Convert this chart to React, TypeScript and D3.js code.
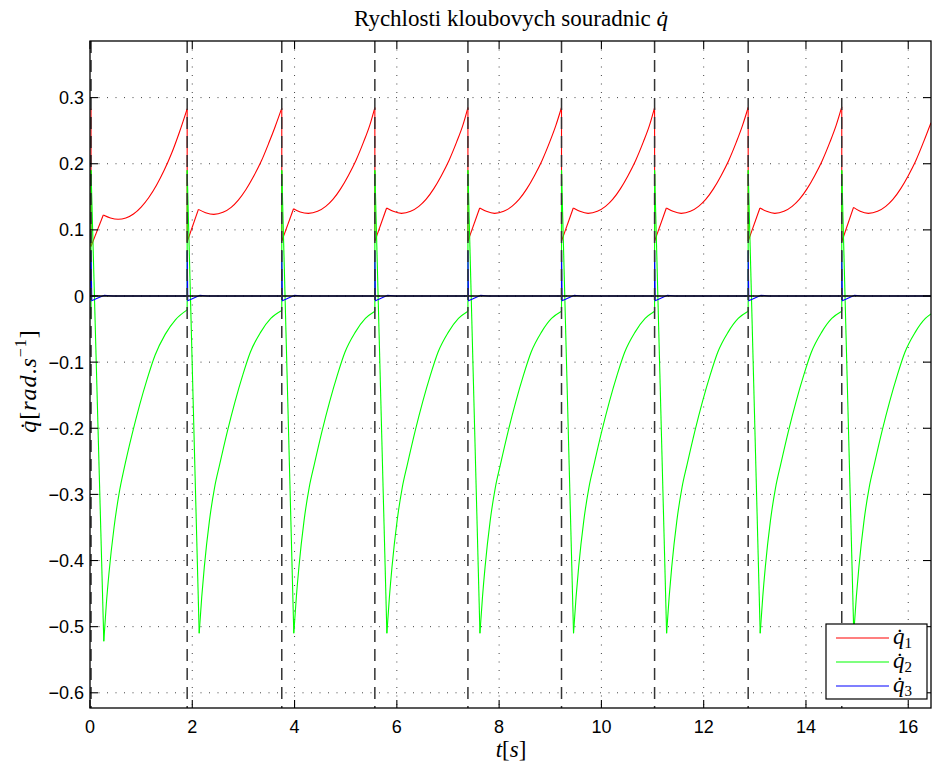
import React from "react";
import * as d3 from "d3";

const W = 932;
const H = 767;
const PLOT = { left: 90, right: 931, top: 41, bottom: 708 };
const X_DOMAIN: [number, number] = [0, 16.445];
const Y_DOMAIN: [number, number] = [-0.623, 0.3856];
const X_TICKS = [0, 2, 4, 6, 8, 10, 12, 14, 16];
const Y_TICKS = [-0.6, -0.5, -0.4, -0.3, -0.2, -0.1, 0, 0.1, 0.2, 0.3];
const SWITCH_TIMES = [0.02, 1.9, 3.75, 5.57, 7.39, 9.22, 11.04, 12.87, 14.7];

type P = [number, number];

// q1 (red) – one array per period: start after jump, local peak, then smooth rise
const Q1_START: P = [0.02, 0.283];
const Q1_PERIODS: P[][] = [
  [[0.02, 0.075], [0.26, 0.1225], [0.4, 0.118], [0.55, 0.116], [0.7, 0.118], [0.85, 0.124], [1.0, 0.1345], [1.15, 0.149], [1.3, 0.1675], [1.45, 0.19], [1.6, 0.2165], [1.75, 0.248], [1.9, 0.283]],
  [[1.9, 0.082], [2.12, 0.131], [2.26, 0.126], [2.42, 0.1235], [2.6, 0.1265], [2.76, 0.134], [2.9, 0.145], [3.05, 0.161], [3.2, 0.181], [3.35, 0.204], [3.5, 0.232], [3.62, 0.256], [3.75, 0.284]],
  [[3.75, 0.083], [3.98, 0.132], [4.11, 0.127], [4.27, 0.125], [4.45, 0.128], [4.61, 0.1355], [4.75, 0.146], [4.9, 0.162], [5.05, 0.182], [5.2, 0.205], [5.35, 0.233], [5.47, 0.258], [5.57, 0.285]],
  [[5.57, 0.083], [5.8, 0.133], [5.93, 0.128], [6.09, 0.125], [6.27, 0.128], [6.43, 0.1355], [6.57, 0.146], [6.72, 0.162], [6.87, 0.182], [7.02, 0.205], [7.17, 0.233], [7.29, 0.258], [7.39, 0.285]],
  [[7.39, 0.083], [7.62, 0.133], [7.75, 0.128], [7.91, 0.125], [8.09, 0.128], [8.25, 0.1355], [8.39, 0.146], [8.54, 0.162], [8.69, 0.182], [8.84, 0.205], [8.99, 0.233], [9.11, 0.258], [9.22, 0.285]],
  [[9.22, 0.083], [9.45, 0.133], [9.58, 0.128], [9.74, 0.125], [9.92, 0.128], [10.08, 0.1355], [10.22, 0.146], [10.37, 0.162], [10.52, 0.182], [10.67, 0.205], [10.82, 0.233], [10.94, 0.258], [11.04, 0.285]],
  [[11.04, 0.083], [11.27, 0.133], [11.4, 0.128], [11.56, 0.125], [11.74, 0.128], [11.9, 0.1355], [12.04, 0.146], [12.19, 0.162], [12.34, 0.182], [12.49, 0.205], [12.64, 0.233], [12.76, 0.258], [12.87, 0.285]],
  [[12.87, 0.083], [13.1, 0.133], [13.23, 0.128], [13.39, 0.125], [13.57, 0.128], [13.73, 0.1355], [13.87, 0.146], [14.02, 0.162], [14.17, 0.182], [14.32, 0.205], [14.47, 0.233], [14.59, 0.258], [14.7, 0.286]],
  [[14.7, 0.082], [14.93, 0.134], [15.06, 0.128], [15.22, 0.125], [15.4, 0.128], [15.56, 0.1355], [15.7, 0.146], [15.85, 0.162], [16.0, 0.182], [16.15, 0.205], [16.3, 0.233], [16.445, 0.262]],
];

// q2 (green) – spike top, minimum, then recovery
const Q2_START: P = [0.02, -0.035];
const Q2_PERIODS: P[][] = [
  [[0.02, 0.19], [0.27, -0.522], [0.32, -0.465], [0.37, -0.42], [0.47, -0.35], [0.57, -0.298], [0.67, -0.26], [0.82, -0.21], [0.97, -0.165], [1.12, -0.125], [1.27, -0.09], [1.47, -0.058], [1.67, -0.036], [1.9, -0.021]],
  [[1.9, 0.19], [2.135, -0.51], [2.185, -0.455], [2.235, -0.41], [2.335, -0.34], [2.435, -0.29], [2.535, -0.255], [2.685, -0.205], [2.835, -0.16], [2.985, -0.12], [3.135, -0.085], [3.335, -0.055], [3.535, -0.034], [3.75, -0.022]],
  [[3.75, 0.19], [3.985, -0.51], [4.035, -0.455], [4.085, -0.41], [4.185, -0.34], [4.285, -0.29], [4.385, -0.255], [4.535, -0.205], [4.685, -0.16], [4.835, -0.12], [4.985, -0.085], [5.185, -0.055], [5.385, -0.034], [5.57, -0.023]],
  [[5.57, 0.19], [5.805, -0.51], [5.855, -0.455], [5.905, -0.41], [6.005, -0.34], [6.105, -0.29], [6.205, -0.255], [6.355, -0.205], [6.505, -0.16], [6.655, -0.12], [6.805, -0.085], [7.005, -0.055], [7.205, -0.034], [7.39, -0.023]],
  [[7.39, 0.19], [7.625, -0.51], [7.675, -0.455], [7.725, -0.41], [7.825, -0.34], [7.925, -0.29], [8.025, -0.255], [8.175, -0.205], [8.325, -0.16], [8.475, -0.12], [8.625, -0.085], [8.825, -0.055], [9.025, -0.034], [9.22, -0.023]],
  [[9.22, 0.19], [9.455, -0.51], [9.505, -0.455], [9.555, -0.41], [9.655, -0.34], [9.755, -0.29], [9.855, -0.255], [10.005, -0.205], [10.155, -0.16], [10.305, -0.12], [10.455, -0.085], [10.655, -0.055], [10.855, -0.034], [11.04, -0.023]],
  [[11.04, 0.19], [11.275, -0.51], [11.325, -0.455], [11.375, -0.41], [11.475, -0.34], [11.575, -0.29], [11.675, -0.255], [11.825, -0.205], [11.975, -0.16], [12.125, -0.12], [12.275, -0.085], [12.475, -0.055], [12.675, -0.034], [12.87, -0.023]],
  [[12.87, 0.19], [13.105, -0.51], [13.155, -0.455], [13.205, -0.41], [13.305, -0.34], [13.405, -0.29], [13.505, -0.255], [13.655, -0.205], [13.805, -0.16], [13.955, -0.12], [14.105, -0.085], [14.305, -0.055], [14.505, -0.034], [14.7, -0.023]],
  [[14.7, 0.19], [14.935, -0.51], [14.985, -0.455], [15.035, -0.41], [15.135, -0.34], [15.235, -0.29], [15.335, -0.255], [15.485, -0.205], [15.635, -0.16], [15.785, -0.12], [15.935, -0.085], [16.135, -0.055], [16.335, -0.034], [16.445, -0.027]],
];

// q3 (blue)
const Q3: P[] = [
  [0, 0], [0.02, 0.068], [0.035, -0.007], [0.12, -0.004], [0.28, 0.0012], [0.45, 0],
  [1.9, 0], [1.9, 0.068], [1.912, -0.007], [2.0, -0.004], [2.15, 0.0012], [2.3, 0],
  [3.75, 0], [3.75, 0.068], [3.762, -0.007], [3.85, -0.004], [4.0, 0.0012], [4.15, 0],
  [5.57, 0], [5.57, 0.068], [5.582, -0.007], [5.67, -0.004], [5.82, 0.0012], [5.97, 0],
  [7.39, 0], [7.39, 0.068], [7.402, -0.007], [7.49, -0.004], [7.64, 0.0012], [7.79, 0],
  [9.22, 0], [9.22, 0.068], [9.232, -0.007], [9.32, -0.004], [9.47, 0.0012], [9.62, 0],
  [11.04, 0], [11.04, 0.068], [11.052, -0.007], [11.14, -0.004], [11.29, 0.0012], [11.44, 0],
  [12.87, 0], [12.87, 0.068], [12.882, -0.007], [12.97, -0.004], [13.12, 0.0012], [13.27, 0],
  [14.7, 0], [14.7, 0.068], [14.712, -0.007], [14.8, -0.004], [14.95, 0.0012], [15.1, 0],
  [16.445, 0],
];

const ZERO_LINE: P[] = [[0, 0], [16.445, 0]];

const COLORS = { q1: "#ff0000", q2: "#00ff00", q3: "#0000ff" };
const LEGEND = [
  { key: "q1", sub: "1", color: COLORS.q1 },
  { key: "q2", sub: "2", color: COLORS.q2 },
  { key: "q3", sub: "3", color: COLORS.q3 },
];

const SANS = "'Liberation Sans', Arial, Helvetica, sans-serif";
const SERIF = "'Liberation Serif', 'Times New Roman', serif";

export default function App() {
  const x = d3.scaleLinear().domain(X_DOMAIN).range([PLOT.left, PLOT.right]);
  const y = d3.scaleLinear().domain(Y_DOMAIN).range([PLOT.bottom, PLOT.top]);
  const lin = d3.line<P>().x((d) => x(d[0])).y((d) => y(d[1]));
  const smooth = d3
    .line<P>()
    .x((d) => x(d[0]))
    .y((d) => y(d[1]))
    .curve(d3.curveMonotoneX);

  // vertical jumps at switch instants
  const q1Conn: string[] = Q1_PERIODS.map((per, i) => {
    const prev = i === 0 ? Q1_START : Q1_PERIODS[i - 1][Q1_PERIODS[i - 1].length - 1];
    return lin([prev, per[0]]) as string;
  });
  const q2Conn: string[] = Q2_PERIODS.map((per, i) => {
    const prev = i === 0 ? Q2_START : Q2_PERIODS[i - 1][Q2_PERIODS[i - 1].length - 1];
    return lin([prev, per[0]]) as string;
  });

  const lg = { x: 826, y: 624, w: 101, h: 75 };
  const fmt = (t: number) => (t === 0 ? "0" : (t < 0 ? "\u2212" : "") + Math.abs(t).toFixed(1));

  return (
    <svg width={W} height={H} style={{ display: "block", position: "absolute", left: 0, top: 0 }}>
      <rect x={0} y={0} width={W} height={H} fill="#fff" />
      <defs>
        <clipPath id="plotclip">
          <rect x={PLOT.left} y={PLOT.top} width={PLOT.right - PLOT.left} height={PLOT.bottom - PLOT.top} />
        </clipPath>
      </defs>

      {/* grid */}
      <g stroke="#444" strokeWidth={1} strokeDasharray="1,7.5">
        {X_TICKS.filter((t) => t > 0).map((t) => (
          <line key={"gx" + t} x1={x(t)} x2={x(t)} y1={PLOT.top} y2={PLOT.bottom} />
        ))}
        {Y_TICKS.map((t) => (
          <line key={"gy" + t} x1={PLOT.left} x2={PLOT.right} y1={y(t)} y2={y(t)} />
        ))}
      </g>

      <g clipPath="url(#plotclip)" fill="none">
        <g stroke={COLORS.q1} strokeWidth={1.1}>
          {q1Conn.map((d, i) => <path key={"q1c" + i} d={d} />)}
          {Q1_PERIODS.map((per, i) => (
            <g key={"q1p" + i}>
              <path d={lin(per.slice(0, 2)) as string} />
              <path d={smooth(per.slice(1)) as string} />
            </g>
          ))}
        </g>
        <g stroke={COLORS.q2} strokeWidth={1.1}>
          {q2Conn.map((d, i) => <path key={"q2c" + i} d={d} />)}
          {Q2_PERIODS.map((per, i) => (
            <g key={"q2p" + i}>
              <path d={lin(per.slice(0, 2)) as string} />
              <path d={smooth(per.slice(1)) as string} />
            </g>
          ))}
        </g>
        <path d={lin(Q3) as string} stroke={COLORS.q3} strokeWidth={1.1} />
        <path d={lin(ZERO_LINE) as string} stroke="#000" strokeWidth={1.3} />
        <g stroke="#333" strokeWidth={1.5} strokeDasharray="12,7">
          {SWITCH_TIMES.map((t) => (
            <line key={"sw" + t} x1={x(t)} x2={x(t)} y1={PLOT.top} y2={PLOT.bottom} />
          ))}
        </g>
      </g>

      {/* axes box & ticks */}
      <rect x={PLOT.left} y={PLOT.top} width={PLOT.right - PLOT.left} height={PLOT.bottom - PLOT.top} fill="none" stroke="#000" strokeWidth={1.3} />
      <g stroke="#000" strokeWidth={1.1}>
        {X_TICKS.map((t) => (
          <g key={"tx" + t}>
            <line x1={x(t)} x2={x(t)} y1={PLOT.bottom} y2={PLOT.bottom - 8} />
            <line x1={x(t)} x2={x(t)} y1={PLOT.top} y2={PLOT.top + 8} />
          </g>
        ))}
        {Y_TICKS.map((t) => (
          <g key={"ty" + t}>
            <line x1={PLOT.left} x2={PLOT.left + 8} y1={y(t)} y2={y(t)} />
            <line x1={PLOT.right} x2={PLOT.right - 8} y1={y(t)} y2={y(t)} />
          </g>
        ))}
      </g>
      <g fontFamily={SANS} fontSize={18} fill="#000">
        {X_TICKS.map((t) => (
          <text key={"lx" + t} x={x(t)} y={733} textAnchor="middle">{String(t)}</text>
        ))}
        {Y_TICKS.map((t) => (
          <text key={"ly" + t} x={84} y={y(t) + 6.5} textAnchor="end">{fmt(t)}</text>
        ))}
      </g>

      {/* title */}
      <text x={511} y={26} textAnchor="middle" fontFamily={SERIF} fontSize={23}>
        Rychlosti kloubovych souradnic <tspan fontStyle="italic">q&#x0307;</tspan>
      </text>

      {/* x label */}
      <text x={511} y={757} textAnchor="middle" fontFamily={SERIF} fontSize={23}>
        <tspan fontStyle="italic">t</tspan>[<tspan fontStyle="italic">s</tspan>]
      </text>

      {/* y label */}
      <text transform="translate(36,381) rotate(-90)" textAnchor="middle" fontFamily={SERIF} fontSize={24} letterSpacing={1}>
        <tspan fontStyle="italic">q&#x0307;</tspan>[<tspan fontStyle="italic">rad</tspan>.<tspan fontStyle="italic">s</tspan>
        <tspan fontSize={16} dy={-10}>{"\u22121"}</tspan>
        <tspan dy={10}>]</tspan>
      </text>

      {/* legend */}
      <rect x={lg.x} y={lg.y} width={lg.w} height={lg.h} fill="#fff" stroke="#000" strokeWidth={1.2} />
      {LEGEND.map((e, i) => {
        const yy = lg.y + 14 + i * 24;
        return (
          <g key={e.key}>
            <line x1={836} x2={889} y1={yy} y2={yy} stroke={e.color} strokeWidth={1.1} />
            <text x={893} y={yy + 6} fontFamily={SERIF} fontSize={23}>
              <tspan fontStyle="italic">q&#x0307;</tspan>
              <tspan fontSize={15} dy={4}>{e.sub}</tspan>
            </text>
          </g>
        );
      })}
    </svg>
  );
}
